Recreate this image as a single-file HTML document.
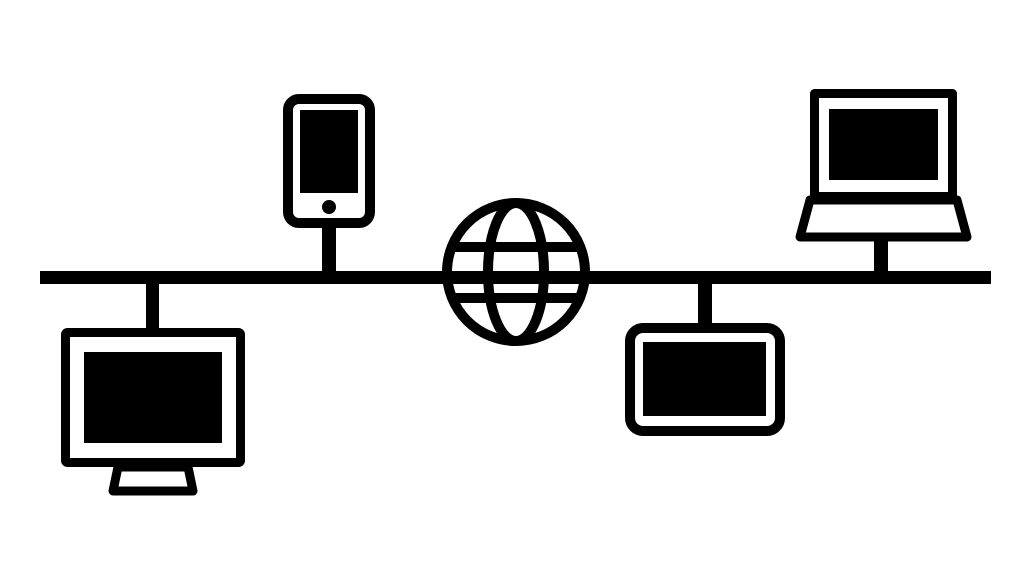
<!DOCTYPE html>
<html><head><style>html,body{margin:0;padding:0;background:#fff;}svg{display:block}</style></head>
<body>
<svg width="1024" height="576" viewBox="0 0 1024 576" xmlns="http://www.w3.org/2000/svg">
<rect width="1024" height="576" fill="#fff"/>
<!-- bus -->
<rect x="40" y="271" width="951" height="13" fill="#000"/>
<!-- stems -->
<rect x="322" y="225" width="14" height="48" fill="#000"/>
<rect x="146" y="283" width="13" height="47" fill="#000"/>
<rect x="698" y="283" width="14" height="42" fill="#000"/>
<rect x="874" y="238" width="14" height="35" fill="#000"/>
<!-- phone -->
<rect x="288" y="99" width="82" height="124" rx="11" fill="#fff" stroke="#000" stroke-width="10"/>
<rect x="300" y="110" width="58" height="83" fill="#000"/>
<circle cx="329" cy="207" r="7" fill="#000"/>
<!-- monitor -->
<rect x="65.5" y="332.5" width="175" height="130" rx="2" fill="#fff" stroke="#000" stroke-width="9"/>
<rect x="84" y="352" width="138" height="91" fill="#000"/>
<polygon points="118,467 188,467 193,491 113,491" fill="#fff" stroke="#000" stroke-width="9" stroke-linejoin="round"/>
<!-- globe -->
<g fill="none" stroke="#000" stroke-width="10">
<circle cx="516" cy="272" r="69"/>
<ellipse cx="516" cy="272" rx="28" ry="69"/>
<line x1="452" y1="247" x2="580" y2="247"/>
<line x1="452" y1="298" x2="580" y2="298"/>
</g>
<!-- tablet -->
<rect x="630" y="328" width="150" height="103" rx="13" fill="#fff" stroke="#000" stroke-width="10"/>
<rect x="643" y="342" width="123" height="74" fill="#000"/>
<!-- laptop -->
<rect x="814.5" y="93.5" width="138" height="103" fill="#fff" stroke="#000" stroke-width="9" stroke-linejoin="round"/>
<rect x="829" y="109" width="109" height="71" fill="#000"/>
<polygon points="810,200 957,200 967,237 800,237" fill="#fff" stroke="#000" stroke-width="9" stroke-linejoin="round"/>
</svg>
</body></html>
